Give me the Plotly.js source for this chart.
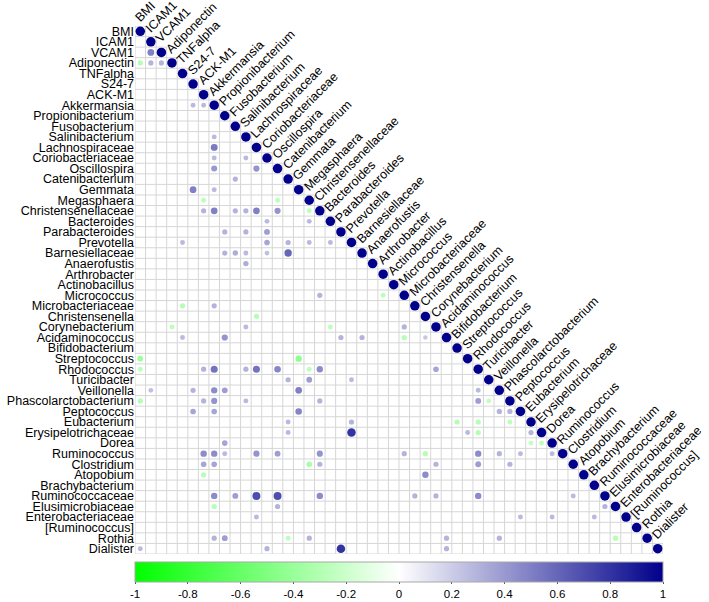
<!DOCTYPE html>
<html><head><meta charset="utf-8">
<script src="https://cdn.plot.ly/plotly-3.0.1.min.js"></script>
<style>html,body{margin:0;padding:0;background:#fff}#chart{width:709px;height:602px}</style>
</head><body><div id="chart"></div>
<script>
const variables = ["BMI","ICAM1","VCAM1","Adiponectin","TNFalpha","S24-7","ACK-M1","Akkermansia","Propionibacterium","Fusobacterium","Salinibacterium","Lachnospiraceae","Coriobacteriaceae","Oscillospira","Catenibacterium","Gemmata","Megasphaera","Christensenellaceae","Bacteroides","Parabacteroides","Prevotella","Barnesiellaceae","Anaerofustis","Arthrobacter","Actinobacillus","Micrococcus","Microbacteriaceae","Christensenella","Corynebacterium","Acidaminococcus","Bifidobacterium","Streptococcus","Rhodococcus","Turicibacter","Veillonella","Phascolarctobacterium","Peptococcus","Eubacterium","Erysipelotrichaceae","Dorea","Ruminococcus","Clostridium","Atopobium","Brachybacterium","Ruminococcaceae","Elusimicrobiaceae","Enterobacteriaceae","[Ruminococcus]","Rothia","Dialister"];

const pairRow = ["VCAM1","Adiponectin","Adiponectin","Adiponectin","Akkermansia","Akkermansia","Salinibacterium","Lachnospiraceae","Coriobacteriaceae","Coriobacteriaceae",
"Oscillospira","Oscillospira","Catenibacterium","Gemmata","Gemmata","Megasphaera","Megasphaera","Christensenellaceae","Christensenellaceae","Christensenellaceae",
"Christensenellaceae","Christensenellaceae","Christensenellaceae","Christensenellaceae","Bacteroides","Bacteroides","Parabacteroides","Parabacteroides","Parabacteroides","Prevotella",
"Prevotella","Prevotella","Prevotella","Prevotella","Barnesiellaceae","Barnesiellaceae","Barnesiellaceae","Barnesiellaceae","Barnesiellaceae","Anaerofustis",
"Micrococcus","Micrococcus","Microbacteriaceae","Microbacteriaceae","Christensenella","Corynebacterium","Corynebacterium","Corynebacterium","Corynebacterium","Acidaminococcus",
"Acidaminococcus","Acidaminococcus","Acidaminococcus","Acidaminococcus","Acidaminococcus","Streptococcus","Streptococcus","Rhodococcus","Rhodococcus","Rhodococcus",
"Rhodococcus","Rhodococcus","Rhodococcus","Rhodococcus","Rhodococcus","Rhodococcus","Turicibacter","Turicibacter","Turicibacter","Veillonella",
"Veillonella","Veillonella","Veillonella","Veillonella","Veillonella","Phascolarctobacterium","Phascolarctobacterium","Phascolarctobacterium","Phascolarctobacterium","Phascolarctobacterium",
"Phascolarctobacterium","Phascolarctobacterium","Peptococcus","Peptococcus","Peptococcus","Peptococcus","Peptococcus","Eubacterium","Eubacterium","Eubacterium",
"Eubacterium","Eubacterium","Erysipelotrichaceae","Erysipelotrichaceae","Erysipelotrichaceae","Erysipelotrichaceae","Erysipelotrichaceae","Dorea","Dorea","Dorea",
"Ruminococcus","Ruminococcus","Ruminococcus","Ruminococcus","Ruminococcus","Ruminococcus","Ruminococcus","Ruminococcus","Ruminococcus","Ruminococcus",
"Ruminococcus","Ruminococcus","Clostridium","Clostridium","Clostridium","Clostridium","Clostridium","Clostridium","Clostridium","Atopobium",
"Atopobium","Ruminococcaceae","Ruminococcaceae","Ruminococcaceae","Ruminococcaceae","Ruminococcaceae","Ruminococcaceae","Ruminococcaceae","Ruminococcaceae","Ruminococcaceae",
"Elusimicrobiaceae","Elusimicrobiaceae","Elusimicrobiaceae","Enterobacteriaceae","Enterobacteriaceae","Enterobacteriaceae","Enterobacteriaceae","Rothia","Rothia","Rothia",
"Rothia","Rothia","Rothia","Rothia","Dialister","Dialister","Dialister","Dialister"];

const pairCol = ["ICAM1","BMI","ICAM1","VCAM1","S24-7","ACK-M1","Akkermansia","Akkermansia","Akkermansia","Salinibacterium",
"Akkermansia","Lachnospiraceae","Fusobacterium","S24-7","Akkermansia","ACK-M1","Oscillospira","ACK-M1","Akkermansia","Fusobacterium",
"Salinibacterium","Lachnospiraceae","Oscillospira","Megasphaera","Coriobacteriaceae","Megasphaera","Propionibacterium","Salinibacterium","Coriobacteriaceae","TNFalpha",
"Coriobacteriaceae","Catenibacterium","Megasphaera","Bacteroides","Propionibacterium","Fusobacterium","Salinibacterium","Coriobacteriaceae","Catenibacterium","Salinibacterium",
"Christensenellaceae","Arthrobacter","TNFalpha","Akkermansia","Lachnospiraceae","Adiponectin","Salinibacterium","Bacteroides","Micrococcus","TNFalpha",
"Propionibacterium","Parabacteroides","Barnesiellaceae","Micrococcus","Christensenella","BMI","Gemmata","BMI","ACK-M1","Akkermansia",
"Salinibacterium","Lachnospiraceae","Oscillospira","Megasphaera","Christensenellaceae","Corynebacterium","Catenibacterium","Megasphaera","Prevotella","ICAM1",
"S24-7","Akkermansia","Propionibacterium","Gemmata","Rhodococcus","BMI","ACK-M1","Akkermansia","Salinibacterium","Christensenellaceae",
"Rhodococcus","Turicibacter","S24-7","Akkermansia","Gemmata","Veillonella","Phascolarctobacterium","Catenibacterium","Prevotella","Bifidobacterium",
"Rhodococcus","Phascolarctobacterium","Catenibacterium","Prevotella","Streptococcus","Rhodococcus","Eubacterium","Propionibacterium","Eubacterium","Erysipelotrichaceae",
"ACK-M1","Akkermansia","Propionibacterium","Lachnospiraceae","Oscillospira","Christensenellaceae","Micrococcus","Christensenella","Rhodococcus","Veillonella",
"Peptococcus","Dorea","ACK-M1","Akkermansia","Megasphaera","Christensenellaceae","Corynebacterium","Rhodococcus","Phascolarctobacterium","ACK-M1",
"Christensenella","Akkermansia","Fusobacterium","Lachnospiraceae","Oscillospira","Christensenellaceae","Microbacteriaceae","Corynebacterium","Rhodococcus","Clostridium",
"Akkermansia","Oscillospira","Ruminococcaceae","Lachnospiraceae","Peptococcus","Dorea","Brachybacterium","Akkermansia","Propionibacterium","Catenibacterium",
"Megasphaera","Acidaminococcus","Veillonella","Elusimicrobiaceae","BMI","Coriobacteriaceae","Parabacteroides","Acidaminococcus"];

const pairR = [0.5,-0.3,0.3,0.3,0.27,0.27,0.27,0.52,0.27,0.27,
0.4,0.42,0.3,0.5,0.27,-0.27,-0.27,0.3,0.5,0.3,
0.3,0.5,0.42,-0.27,0.27,0.27,0.3,0.3,0.38,0.27,
0.35,0.3,0.27,0.27,0.3,0.32,0.27,0.25,0.6,0.32,
0.3,-0.27,-0.3,0.3,-0.3,-0.27,0.27,-0.27,0.3,0.27,
0.42,0.3,0.3,-0.3,0.22,-0.38,-0.45,-0.27,0.3,0.55,
0.3,0.55,0.48,-0.27,0.45,0.35,0.3,0.38,0.27,0.25,
0.3,0.45,0.38,0.5,0.27,-0.3,0.3,0.42,0.27,0.3,
0.38,-0.25,0.35,0.35,0.48,0.3,0.3,0.27,0.3,-0.3,
-0.3,-0.27,0.27,0.8,0.27,-0.3,0.3,0.35,-0.25,-0.27,
0.45,0.45,0.27,0.42,0.38,0.42,0.3,-0.3,0.45,0.3,
0.27,0.27,0.35,0.35,-0.35,0.3,0.3,0.38,0.3,-0.3,
0.45,0.45,0.38,0.7,0.7,0.45,0.3,0.3,0.45,0.27,
-0.3,0.3,0.3,0.27,0.27,0.27,0.27,0.3,0.38,-0.27,
0.3,0.3,0.3,-0.3,0.27,0.3,0.8,0.3];

const colorbarTicks = [-1,-0.8,-0.6,-0.4,-0.2,0,0.2,0.4,0.6,0.8,1];
const colorbarTickText = ["-1","-0.8","-0.6","-0.4","-0.2","0","0.2","0.4","0.6","0.8","1"];

const n = variables.length;
const idx = {};
variables.forEach((v, i) => { idx[v] = i; });

const xs = [], ys = [], rs = [];
variables.forEach((v, i) => { xs.push(i); ys.push(i); rs.push(1); });
pairRow.forEach((rn, k) => { xs.push(idx[pairCol[k]]); ys.push(idx[rn]); rs.push(pairR[k]); });

const cellPx = 528 / n;
const sizes = rs.map(r => 0.9 * cellPx * Math.sqrt(Math.abs(r)));

const gridColor = 'rgb(214,214,214)';
const shapes = [];
for (let k = 0; k <= n; k++) {
  const top = k === 0 ? -0.5 : k - 1.5;
  shapes.push({type:'line', xref:'x', yref:'y', x0:k-0.5, x1:k-0.5, y0:top, y1:n-0.5, line:{color:gridColor, width:1}, layer:'below'});
  const right = k === n ? n - 0.5 : k + 0.5;
  shapes.push({type:'line', xref:'x', yref:'y', x0:-0.5, x1:right, y0:k-0.5, y1:k-0.5, line:{color:gridColor, width:1}, layer:'below'});
}

const annotations = variables.map((v, i) => ({
  x: i, y: i, xref: 'x', yref: 'y', text: v, textangle: -45,
  xanchor: 'left', yanchor: 'bottom', showarrow: false, xshift: -11, yshift: 4,
  font: {size: 12.5, color: '#000'}
}));

const trace = {
  type: 'scatter', mode: 'markers', x: xs, y: ys,
  hoverinfo: 'skip',
  marker: {
    size: sizes, color: rs, cmin: -1, cmax: 1,
    colorscale: [[0, '#00FF00'], [0.5, '#FFFFFF'], [1, '#00008B']],
    line: {width: 0}, opacity: 1,
    showscale: true,
    colorbar: {
      orientation: 'h', x: 0.5, xanchor: 'center', y: -0.016, yanchor: 'top',
      len: 1.0, lenmode: 'fraction', thickness: 20, thicknessmode: 'pixels',
      xpad: 0, ypad: 0, outlinecolor: '#a8a8a8', outlinewidth: 1,
      tickmode: 'array', tickvals: colorbarTicks, ticktext: colorbarTickText,
      ticks: 'outside', ticklen: 2, tickcolor: '#555', tickfont: {size: 11.5, color: '#000'}
    }
  }
};

const layout = {
  width: 709, height: 602,
  margin: {l: 135, r: 46, t: 26, b: 48, pad: 0, autoexpand: false},
  paper_bgcolor: '#fff', plot_bgcolor: '#fff',
  font: {family: '"Liberation Sans", Arial, sans-serif', size: 12.5, color: '#000'},
  showlegend: false,
  xaxis: {range: [-0.5, n - 0.5], showgrid: false, zeroline: false, showticklabels: false, showline: false, ticks: '', fixedrange: true},
  yaxis: {range: [n - 0.5, -0.5], tickmode: 'array', tickvals: variables.map((v, i) => i), ticktext: variables,
          showgrid: false, zeroline: false, showline: false, ticks: '', tickfont: {size: 12.5, color: '#000'}, fixedrange: true},
  shapes: shapes,
  annotations: annotations
};

Plotly.newPlot('chart', [trace], layout, {displayModeBar: false, staticPlot: true});
</script>
</body></html>
